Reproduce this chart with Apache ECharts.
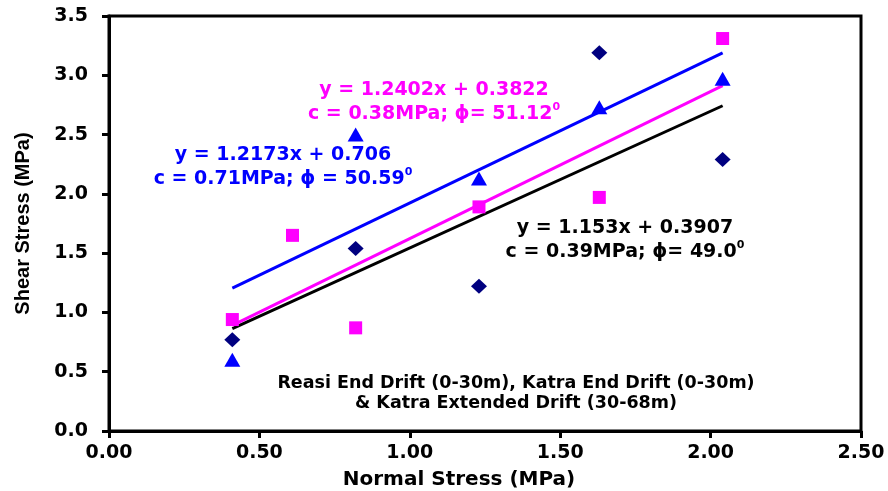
<!DOCTYPE html>
<html>
<head>
<meta charset="utf-8">
<script src="https://cdn.jsdelivr.net/npm/echarts@6/dist/echarts.min.js"></script>
<style>
  html, body { margin: 0; padding: 0; background: #fff; }
  #chart { width: 888px; height: 491px; }
</style>
</head>
<body>
<div id="chart"></div>
<script>
// Direct shear test results: normal vs shear stress (MPa)
const reasiEnd = [[0.41, 0.77], [0.82, 1.54], [1.23, 1.22], [1.63, 3.19], [2.04, 2.29]];
const katraEnd = [[0.41, 0.94], [0.61, 1.65], [0.82, 0.87], [1.23, 1.89], [1.63, 1.97], [2.04, 3.31]];
const katraExt = [[0.41, 0.60], [0.82, 2.50], [1.23, 2.13], [1.63, 2.73], [2.04, 2.97]];

// Linear fit lines (end points over the tested normal stress range)
const fitBlack = [[0.41, 0.863], [2.04, 2.743]];   // y = 1.153x + 0.3907
const fitMagenta = [[0.41, 0.891], [2.04, 2.912]]; // y = 1.2402x + 0.3822
const fitBlue = [[0.41, 1.205], [2.04, 3.189]];    // y = 1.2173x + 0.706

const xTicks = [0, 2.5, 0.5];
const yTicks = [0, 3.5, 0.5];

const FONT = '"DejaVu Sans", sans-serif';
const FONT_Y = '"Liberation Sans", Arial, sans-serif';

function eqText(cx, top, color, l1, l2) {
  return {
    type: 'text', x: cx, y: top, z: 50,
    style: {
      text: '{a|' + l1 + '}\n{a|' + l2 + '}{s|0}',
      align: 'center', verticalAlign: 'top',
      rich: {
        a: { fontFamily: FONT, fontWeight: 'bold', fontSize: 19, fill: color, lineHeight: 24 },
        s: { fontFamily: FONT, fontWeight: 'bold', fontSize: 11, fill: color, lineHeight: 24, verticalAlign: 'top', padding: [0, 0, 8, 0] }
      }
    }
  };
}

const chart = echarts.init(document.getElementById('chart'), null, { renderer: 'canvas' });

chart.setOption({
  animation: false,
  backgroundColor: '#fff',
  grid: {
    left: 109, top: 16, right: 27, bottom: 60,
    show: true, borderColor: '#000', borderWidth: 3, backgroundColor: 'transparent'
  },
  xAxis: {
    type: 'value', min: xTicks[0], max: xTicks[1], interval: xTicks[2],
    axisLine: { show: true, lineStyle: { color: '#000', width: 3 } },
    axisTick: { show: true, inside: false, length: 7, lineStyle: { color: '#000', width: 3 } },
    splitLine: { show: false },
    axisLabel: {
      margin: 13, color: '#000', fontFamily: FONT, fontWeight: 'bold', fontSize: 19,
      formatter: v => v.toFixed(2)
    }
  },
  yAxis: {
    type: 'value', min: yTicks[0], max: yTicks[1], interval: yTicks[2],
    name: 'Shear Stress (MPa)', nameLocation: 'middle', nameGap: 76,
    nameTextStyle: { color: '#000', fontFamily: FONT_Y, fontWeight: 'bold', fontSize: 20 },
    axisLine: { show: true, lineStyle: { color: '#000', width: 3 } },
    axisTick: { show: true, inside: false, length: 7, lineStyle: { color: '#000', width: 3 } },
    splitLine: { show: false },
    axisLabel: {
      margin: 21, color: '#000', fontFamily: FONT, fontWeight: 'bold', fontSize: 19,
      formatter: v => v.toFixed(1)
    }
  },
  graphic: [
    {
      type: 'text', x: 459, y: 480, z: 50,
      style: { text: 'Normal Stress (MPa)', align: 'center', verticalAlign: 'middle',
               fontFamily: FONT, fontWeight: 'bold', fontSize: 20, fill: '#000' }
    },
    eqText(434, 78, '#FF00FF', 'y = 1.2402x + 0.3822', 'c = 0.38MPa; \u03d5= 51.12'),
    eqText(283, 143, '#0000FF', 'y = 1.2173x + 0.706', 'c = 0.71MPa; \u03d5 = 50.59'),
    eqText(625, 216, '#000000', 'y = 1.153x + 0.3907', 'c = 0.39MPa; \u03d5= 49.0'),
    {
      type: 'text', x: 516, y: 373, z: 50,
      style: {
        text: 'Reasi End Drift (0-30m), Katra End Drift (0-30m)\n& Katra Extended Drift (30-68m)',
        align: 'center', verticalAlign: 'top',
        fontFamily: FONT, fontWeight: 'bold', fontSize: 17.5, fill: '#000', lineHeight: 20
      }
    }
  ],
  series: [
    { type: 'line', data: fitBlack, symbol: 'none', lineStyle: { color: '#000', width: 3 }, z: 2 },
    { type: 'line', data: fitMagenta, symbol: 'none', lineStyle: { color: '#FF00FF', width: 3 }, z: 2 },
    { type: 'line', data: fitBlue, symbol: 'none', lineStyle: { color: '#0000FF', width: 3 }, z: 2 },
    { type: 'scatter', data: reasiEnd, symbol: 'diamond', symbolSize: [16, 15], itemStyle: { color: '#000080', opacity: 1 }, z: 5 },
    { type: 'scatter', data: katraEnd, symbol: 'rect', symbolSize: [13, 13], itemStyle: { color: '#FF00FF', opacity: 1 }, z: 5 },
    { type: 'scatter', data: katraExt, symbol: 'triangle', symbolSize: [16, 14], itemStyle: { color: '#0000FF', opacity: 1 }, z: 5 }
  ]
});
</script>
</body>
</html>
